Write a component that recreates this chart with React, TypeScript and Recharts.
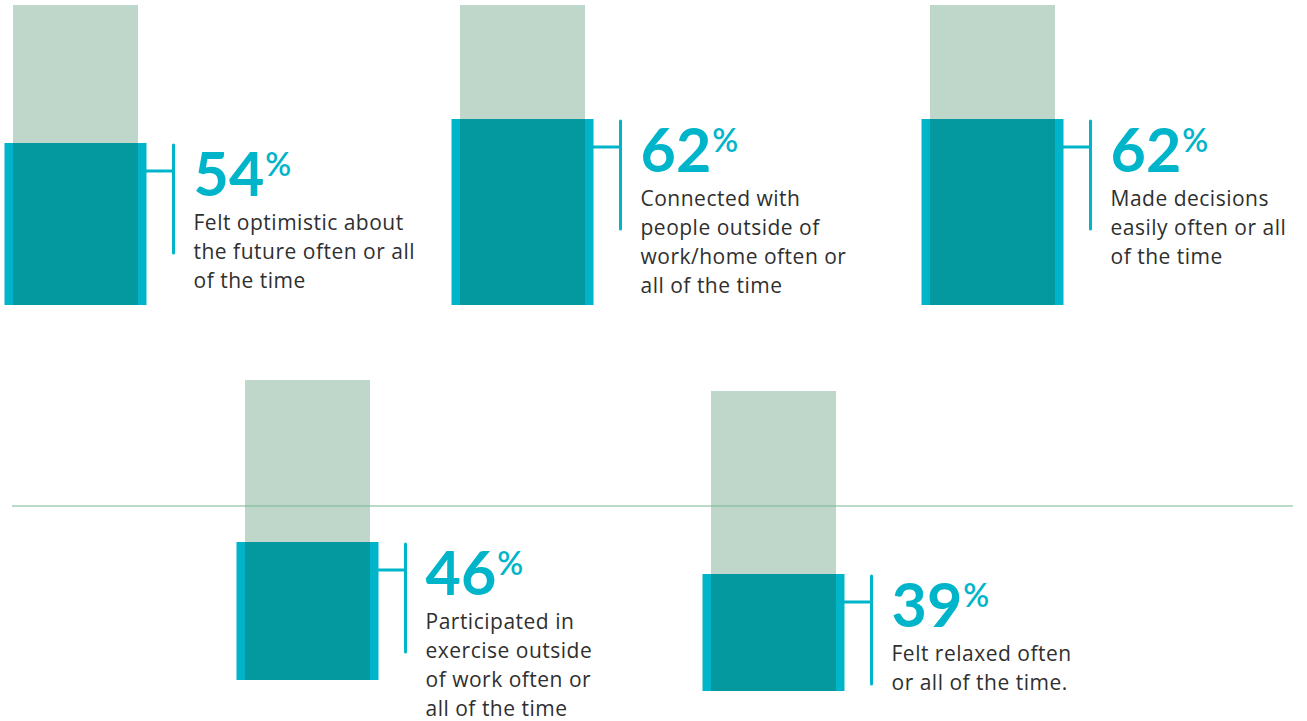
import React from "react";
import { Bar, BarChart, XAxis, YAxis } from "recharts";

const PALE = "#bfd7ca";
const TEAL = "#03999e";
const CYAN = "#00b5c9";
const TEXT = "#2f2f2f";
const NUM_FONT = "Lato, 'Open Sans', sans-serif";
const FONT = "'Open Sans', Lato, sans-serif";

const names = ["optimistic", "connected", "decisions", "exercise", "relaxed"];
const values = [54, 62, 62, 46, 39];
const descLines = [
  ["Felt optimistic about", "the future often or all", "of the time"],
  ["Connected with", "people outside of", "work/home often or", "all of the time"],
  ["Made decisions", "easily often or all", "of the time"],
  ["Participated in", "exercise outside", "of work often or", "all of the time"],
  ["Felt relaxed often", "or all of the time."],
];

// where each little chart sits on the page (left edge of its svg, top of the 100% bar)
const layout = [
  { left: 0, top: 5 },
  { left: 447, top: 5 },
  { left: 917, top: 5 },
  { left: 232, top: 380 },
  { left: 698, top: 391 },
];

const CHART_W = 420;
const PLOT_W = 151;
const PLOT_H = 300;
const BELOW = 60;

function makeShape(lines: string[]) {
  return function ValueBar(props: any) {
    const { x, y, width, height, value } = props;
    const edge = 8.5;
    const vx = x + width + edge + 27;
    const tx = vx + 20;
    return (
      <g>
        <rect x={x - edge} y={y} width={width + edge * 2} height={height} fill={CYAN} />
        <rect x={x} y={y} width={width} height={height} fill={TEAL} />
        <line x1={x + width + 2} y1={y + 28} x2={vx} y2={y + 28} stroke={CYAN} strokeWidth={3} strokeLinecap="round" />
        <line x1={vx} y1={y + 2} x2={vx} y2={y + 110} stroke={CYAN} strokeWidth={3} strokeLinecap="round" />
        <text x={tx} y={y + 53} fill={CYAN} fontFamily={NUM_FONT} fontWeight={700} fontSize={61}>
          {value}
          <tspan fontSize={32} fontWeight={600} dx={1} dy={-20}>%</tspan>
        </text>
        {lines.map((l, i) => (
          <text key={i} x={tx} y={y + 87 + i * 29} fill={TEXT} fontFamily={FONT} fontSize={21} letterSpacing={0.5}>
            {l}
          </text>
        ))}
      </g>
    );
  };
}

function MiniChart({ idx }: { idx: number }) {
  const data = [{ name: names[idx], value: values[idx] }];
  const pos = layout[idx];
  return (
    <div style={{ position: "absolute", left: pos.left, top: pos.top }}>
      <BarChart
        width={CHART_W}
        height={PLOT_H + BELOW}
        data={data}
        margin={{ top: 0, right: CHART_W - PLOT_W, bottom: BELOW, left: 0 }}
      >
        <XAxis dataKey="name" hide />
        <YAxis hide domain={[0, 100]} />
        <Bar
          dataKey="value"
          barSize={125}
          background={{ fill: PALE }}
          shape={makeShape(descLines[idx])}
          isAnimationActive={false}
        />
      </BarChart>
    </div>
  );
}

export default function App() {
  return (
    <div
      style={{
        position: "absolute",
        left: 0,
        top: 0,
        width: 1307,
        height: 721,
        overflow: "hidden",
        background: "#fff",
      }}
    >
      {values.map((_, i) => (
        <MiniChart key={i} idx={i} />
      ))}
      <div
        style={{
          position: "absolute",
          left: 12,
          top: 505,
          width: 1281,
          height: 2,
          background: "rgba(120,182,150,0.5)",
        }}
      />
    </div>
  );
}
